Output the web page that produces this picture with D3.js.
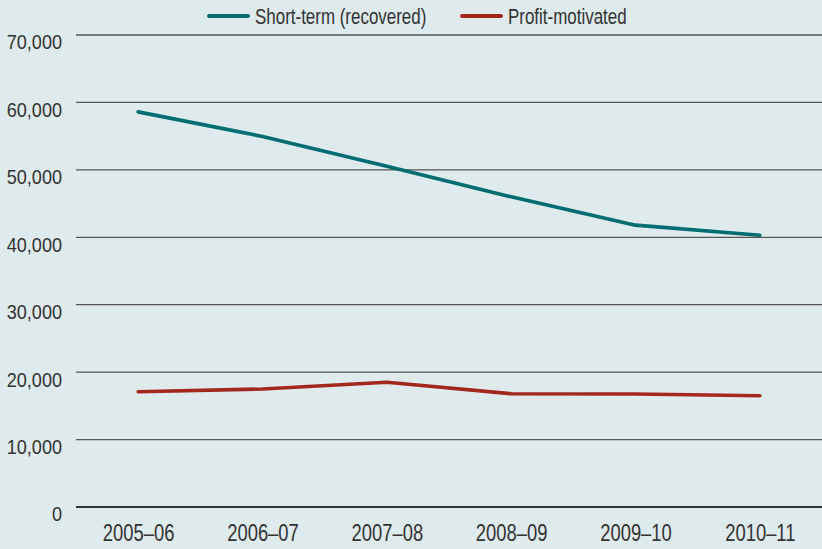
<!DOCTYPE html>
<html>
<head>
<meta charset="utf-8">
<script src="https://cdn.jsdelivr.net/npm/d3@7"></script>
<style>
  body { margin: 0; background: #dfeaec; }
  svg { display: block; font-family: "Liberation Sans", Arial, sans-serif; }
  .tick text { fill: #333; }
</style>
</head>
<body>
<svg id="chart" width="822" height="549"></svg>
<script>
var years = ["2005–06", "2006–07", "2007–08", "2008–09", "2009–10", "2010–11"];
var shortTerm = [58600, 54950, 50550, 46000, 41800, 40300];
var profitMotivated = [17100, 17500, 18500, 16800, 16750, 16500];
var yTicks = [0, 10000, 20000, 30000, 40000, 50000, 60000, 70000];

var svg = d3.select("#chart"),
    margin = {top: 35, right: 0, bottom: 42, left: 76},
    width = +svg.attr("width") - margin.left - margin.right,
    height = +svg.attr("height") - margin.top - margin.bottom;

svg.append("rect").attr("width", 822).attr("height", 549).attr("fill", "#dfeaec");

// the original uses a condensed face, so squeeze the text horizontally
function condense(sel, k) {
  sel.each(function() {
    var w = this.getComputedTextLength();
    d3.select(this)
      .attr("textLength", w * k)
      .attr("lengthAdjust", "spacingAndGlyphs");
  });
}

var g = svg.append("g").attr("transform", "translate(" + margin.left + "," + margin.top + ")");

var x = d3.scalePoint()
    .domain(years)
    .range([0, width])
    .padding(0.5);

var y = d3.scaleLinear()
    .domain([0, 70000])
    .range([height, 0]);

// gridlines
g.append("g")
    .selectAll("line")
    .data(yTicks)
  .enter().append("line")
    .attr("x1", 0)
    .attr("x2", width)
    .attr("y1", function(d) { return y(d); })
    .attr("y2", function(d) { return y(d); })
    .attr("stroke", function(d) { return d === 0 ? "#333" : "#555"; })
    .attr("stroke-width", function(d) { return d === 0 ? 2.2 : 1.3; });

var yAxis = g.append("g")
    .call(d3.axisLeft(y).tickValues(yTicks).tickSize(0).tickPadding(14)
      .tickFormat(d3.format(",")));
yAxis.select(".domain").remove();
yAxis.selectAll("text")
    .style("font-size", "21px")
    .attr("y", 6.5)
    .attr("dy", "0.35em")
    .call(condense, 0.86);

var xAxis = g.append("g")
    .attr("transform", "translate(0," + height + ")")
    .call(d3.axisBottom(x).tickSize(0).tickPadding(18));
xAxis.select(".domain").remove();
xAxis.selectAll("text")
    .style("font-size", "23px")
    .call(condense, 0.8);

var line = d3.line()
    .x(function(d, i) { return x(years[i]); })
    .y(function(d) { return y(d); });

var series = [
  {name: "Short-term (recovered)", values: shortTerm, color: "#006d72"},
  {name: "Profit-motivated", values: profitMotivated, color: "#a4271e"}
];

g.selectAll(".series")
    .data(series)
  .enter().append("path")
    .attr("class", "series")
    .attr("fill", "none")
    .attr("stroke", function(d) { return d.color; })
    .attr("stroke-width", 3.6)
    .attr("stroke-linejoin", "round")
    .attr("stroke-linecap", "round")
    .attr("d", function(d) { return line(d.values); });

// legend
var legendX = [209, 462];
var legend = svg.selectAll(".legend")
    .data(series)
  .enter().append("g")
    .attr("class", "legend")
    .attr("transform", function(d, i) { return "translate(" + legendX[i] + ",16)"; });

legend.append("line")
    .attr("x1", 0).attr("x2", 39)
    .attr("stroke", function(d) { return d.color; })
    .attr("stroke-width", 4)
    .attr("stroke-linecap", "round");

legend.append("text")
    .attr("x", 46)
    .attr("dy", "0.35em")
    .style("font-size", "22px")
    .attr("fill", "#333")
    .text(function(d) { return d.name; })
    .call(condense, 0.77);
</script>
</body>
</html>
